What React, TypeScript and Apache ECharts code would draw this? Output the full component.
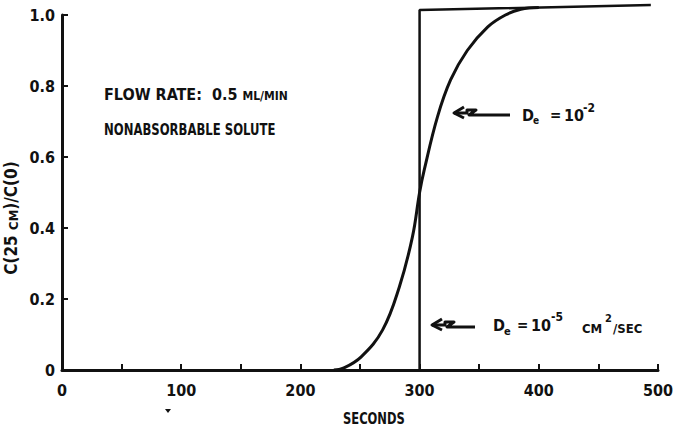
import React, { useEffect, useRef } from "react";
import * as echarts from "echarts";

// Step curve (De = 10^-5 cm²/sec)
const stepSeconds = [300, 300, 494];
const stepValues = [0, 1.014, 1.028];

// Dispersed curve (De = 10^-2)
const curveSeconds = [228, 236, 251, 269, 283, 294, 300, 304, 315, 326, 340, 357, 372, 385, 400];
const curveValues = [0, 0.005, 0.037, 0.113, 0.234, 0.375, 0.5, 0.565, 0.713, 0.817, 0.9, 0.966, 1.0, 1.016, 1.021];

const xTickLabels = ["0", "100", "200", "300", "400", "500"];
const yTickLabels = ["0", "0.2", "0.4", "0.6", "0.8", "1.0"];

const FONT = "'DejaVu Sans Condensed', 'Liberation Sans', sans-serif";
const INK = "#111";

function txt(text: string, x: number, y: number, size: number, extra: any = {}) {
  const { style, ...rest } = extra;
  return {
    type: "text",
    x,
    y,
    ...rest,
    style: {
      text,
      fill: INK,
      fontFamily: FONT,
      fontWeight: "bold",
      fontSize: size,
      textAlign: "left",
      textVerticalAlign: "middle",
      ...(style || {}),
    },
  };
}

function squiggleArrow(x0: number, y: number, len: number) {
  const st = { stroke: INK, lineWidth: 3, fill: "none", lineJoin: "round" };
  return [
    {
      type: "polyline",
      shape: { points: [[x0 + 10, y - 6], [x0, y], [x0 + 10, y + 5]] },
      style: st,
    },
    {
      type: "polyline",
      shape: {
        points: [
          [x0, y],
          [x0 + 13, y],
          [x0 + 13, y - 3],
          [x0 + 22, y - 3],
          [x0 + 15, y + 2],
          [x0 + 26, y + 2],
          [x0 + len, y + 2],
        ],
      },
      style: st,
    },
  ];
}

export default function App() {
  const ref = useRef<HTMLDivElement>(null);
  useEffect(() => {
    document.body.style.margin = "0";
    const chart = echarts.init(ref.current!, null, { renderer: "svg" });
    const axisLabelStyle = {
      color: INK,
      fontFamily: FONT,
      fontWeight: "bold" as const,
      fontSize: 16,
    };
    chart.setOption({
      animation: false,
      backgroundColor: "#fff",
      grid: { left: 62, right: 14, top: 15, bottom: 58 },
      xAxis: {
        type: "value",
        min: 0,
        max: 500,
        interval: 50,
        splitLine: { show: false },
        axisLine: { lineStyle: { color: INK, width: 3 } },
        axisTick: { inside: true, length: 6, lineStyle: { color: INK, width: 2 } },
        axisLabel: {
          ...axisLabelStyle,
          margin: 12,
          formatter: (v: number) => (v % 100 === 0 ? xTickLabels[v / 100] : ""),
        },
      },
      yAxis: {
        type: "value",
        min: 0,
        max: 1,
        interval: 0.2,
        splitLine: { show: false },
        axisLine: { lineStyle: { color: INK, width: 3 } },
        axisTick: { inside: true, length: 6, lineStyle: { color: INK, width: 2 } },
        axisLabel: {
          ...axisLabelStyle,
          margin: 7,
          formatter: (v: number) => yTickLabels[Math.round(v * 5)],
        },
      },
      series: [
        {
          type: "line",
          data: stepSeconds.map((s, i) => [s, stepValues[i]]),
          showSymbol: false,
          clip: false,
          lineStyle: { color: INK, width: 2.5 },
        },
        {
          type: "line",
          data: curveSeconds.map((s, i) => [s, curveValues[i]]),
          smooth: 0.4,
          showSymbol: false,
          clip: false,
          lineStyle: { color: INK, width: 3 },
        },
      ],
      graphic: [
        // y-axis name (rotated)
        {
          type: "text",
          x: 11,
          y: 218,
          rotation: Math.PI / 2,
          style: {
            text: "{a|C(25 }{s|CM}{a|)/C(0)}",
            fill: INK,
            textAlign: "center",
            textVerticalAlign: "middle",
            rich: {
              a: { fontFamily: FONT, fontWeight: "bold", fontSize: 17, fill: INK, verticalAlign: "bottom" },
              s: { fontFamily: FONT, fontWeight: "bold", fontSize: 13, fill: INK, verticalAlign: "bottom" },
            },
          },
        },
        // x-axis name
        txt("SECONDS", 343, 418, 16, { scaleX: 0.8 }),
        // small mark under 100
        {
          type: "polygon",
          shape: { points: [[165, 409], [171, 409], [168, 413]] },
          style: { fill: INK },
        },
        // condition notes
        {
          type: "text",
          x: 104,
          y: 94,
          style: {
            text: "{a|FLOW RATE:  0.5 }{s|ML/MIN}",
            fill: INK,
            textAlign: "left",
            textVerticalAlign: "middle",
            rich: {
              a: { fontFamily: FONT, fontWeight: "bold", fontSize: 16, fill: INK, verticalAlign: "bottom" },
              s: { fontFamily: FONT, fontWeight: "bold", fontSize: 12, fill: INK, verticalAlign: "bottom" },
            },
          },
        },
        txt("NONABSORBABLE SOLUTE", 104, 129, 16, { scaleX: 0.81 }),
        // De = 10^-2 annotation
        ...squiggleArrow(454, 113, 56),
        txt("D", 522, 115, 16),
        txt("e", 533, 120, 10),
        txt("=", 550, 115, 15),
        txt("10", 564, 115, 16),
        txt("-2", 583, 108, 12),
        // De = 10^-5 cm²/sec annotation
        ...squiggleArrow(432, 325, 43),
        txt("D", 493, 325, 16),
        txt("e", 504, 331, 11),
        txt("=", 517, 325, 15),
        txt("10", 531, 325, 16),
        txt("-5", 551, 317, 12),
        txt("CM", 582, 328, 13),
        txt("2", 605, 318, 11),
        txt("/SEC", 613, 328, 13),
      ],
    });
    return () => chart.dispose();
  }, []);
  return <div ref={ref} style={{ width: 676, height: 428 }} />;
}
